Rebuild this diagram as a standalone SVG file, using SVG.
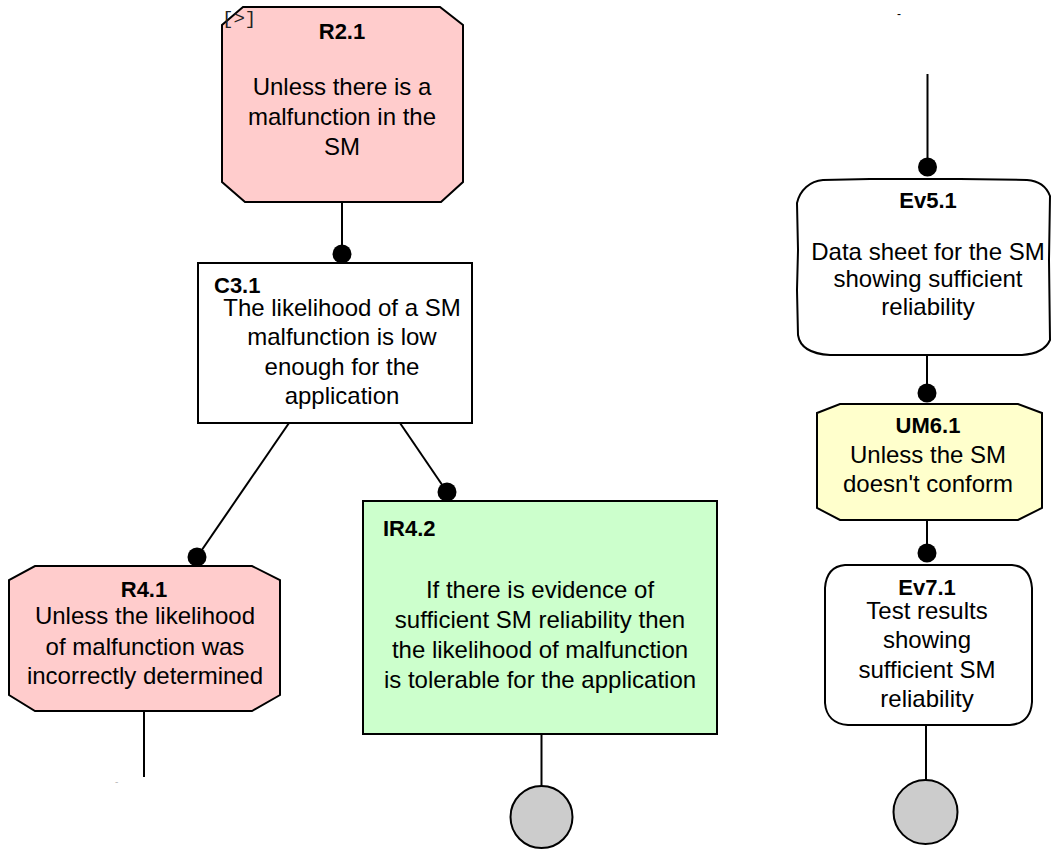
<svg xmlns="http://www.w3.org/2000/svg" width="1052" height="850" viewBox="0 0 1052 850">
  <style>
    .shape { stroke: #000; stroke-width: 2; stroke-linejoin: miter; }
    .rebut { fill: #ffcccc; }
    .ctx { fill: #ffffff; }
    .rule { fill: #ccffcc; }
    .undercut { fill: #ffffcc; }
    .ev { fill: #ffffff; }
    .title { font-family: "Liberation Sans", Arial, sans-serif; font-size: 22px; font-weight: bold; fill: #000; }
    .body { font-family: "Liberation Sans", Arial, sans-serif; font-size: 24px; fill: #000; }
    .mid { text-anchor: middle; }
    .mono { font-family: "Liberation Mono", "Courier New", monospace; font-size: 19px; fill: #222; }
    .link { stroke: #000; stroke-width: 2; fill: none; }
    .dot { fill: #000; }
    .term { fill: #cccccc; stroke: #000; stroke-width: 2; }
  </style>

  <!-- connectors -->
  <g id="connectors">
    <line class="link" x1="342" y1="202" x2="342" y2="254"/>
    <circle class="dot" cx="342" cy="254" r="9.5"/>
    <line class="link" x1="289" y1="423" x2="197" y2="557"/>
    <circle class="dot" cx="197" cy="557" r="9.5"/>
    <line class="link" x1="400" y1="423" x2="447" y2="492"/>
    <circle class="dot" cx="447" cy="492" r="9.5"/>
    <line class="link" x1="144" y1="711" x2="144" y2="777"/>
    <line class="link" x1="541.5" y1="734" x2="541.5" y2="786"/>
    <circle class="term" cx="541.5" cy="817" r="31"/>
    <line class="link" x1="927.5" y1="74" x2="927.5" y2="167"/>
    <circle class="dot" cx="927.5" cy="167" r="9.5"/>
    <line class="link" x1="927" y1="355" x2="927" y2="393"/>
    <circle class="dot" cx="927" cy="393" r="9.5"/>
    <line class="link" x1="927" y1="520" x2="927" y2="553"/>
    <circle class="dot" cx="927" cy="553" r="9.5"/>
    <line class="link" x1="926" y1="725" x2="926" y2="780"/>
    <circle class="term" cx="925.5" cy="812" r="32"/>
  </g>

  <!-- stray marks -->
  <text x="897" y="18" style="font-family: 'Liberation Sans', sans-serif; font-size: 12px; fill: #000;">-</text>
  <text x="115" y="785" style="font-family: 'Liberation Sans', sans-serif; font-size: 10px; fill: #bbb;">-</text>

  <g id="R2.1">
    <polygon class="shape rebut" points="243,7 440,7 463,25 463,182 441,202 245,202 222,182 222,25"/>
    <text class="mono" x="222" y="24">[&gt;]</text>
    <text class="title mid" x="342" y="39">R2.1</text>
    <text class="body mid" x="342" y="95">Unless there is a</text>
    <text class="body mid" x="342" y="125">malfunction in the</text>
    <text class="body mid" x="342" y="155">SM</text>
  </g>

  <g id="C3.1">
    <rect class="shape ctx" x="198" y="263" width="274" height="160"/>
    <text class="title" x="214" y="293">C3.1</text>
    <text class="body mid" x="342" y="316">The likelihood of a SM</text>
    <text class="body mid" x="342" y="345">malfunction is low</text>
    <text class="body mid" x="342" y="375">enough for the</text>
    <text class="body mid" x="342" y="404">application</text>
  </g>

  <g id="R4.1">
    <polygon class="shape rebut" points="35,566 252,566 280,580 280,695 252,711 35,711 9,695 9,580"/>
    <text class="title mid" x="144" y="597">R4.1</text>
    <text class="body mid" x="145" y="624">Unless the likelihood</text>
    <text class="body mid" x="145" y="655">of malfunction was</text>
    <text class="body mid" x="145" y="684">incorrectly determined</text>
  </g>

  <g id="IR4.2">
    <rect class="shape rule" x="363" y="501" width="354" height="233"/>
    <text class="title" x="383" y="536">IR4.2</text>
    <text class="body mid" x="540" y="598">If there is evidence of</text>
    <text class="body mid" x="540" y="628">sufficient SM reliability then</text>
    <text class="body mid" x="540" y="658">the likelihood of malfunction</text>
    <text class="body mid" x="540" y="688">is tolerable for the application</text>
  </g>

  <g id="Ev5.1">
    <path class="shape ev" d="M 823,180 L 870,179 L 960,179 L 1027,180 C 1040,181 1047,188 1050,196 L 1049,260 L 1050,340 C 1046,349 1036,354 1022,355 L 920,355 L 830,355 C 812,354 800,348 798,335 L 797,290 L 798,250 L 797,203 C 800,190 810,181 823,180 Z"/>
    <text class="title mid" x="928" y="208">Ev5.1</text>
    <text class="body mid" x="928" y="260">Data sheet for the SM</text>
    <text class="body mid" x="928" y="287">showing sufficient</text>
    <text class="body mid" x="928" y="315">reliability</text>
  </g>

  <g id="UM6.1">
    <polygon class="shape undercut" points="840,404 1018,404 1042,413 1042,508 1018,520 840,520 817,508 817,413"/>
    <text class="title mid" x="928" y="433">UM6.1</text>
    <text class="body mid" x="928" y="463">Unless the SM</text>
    <text class="body mid" x="928" y="492">doesn't conform</text>
  </g>

  <g id="Ev7.1">
    <path class="shape ev" d="M 845,565 L 1012,565 C 1025,566 1031,575 1032,588 L 1032,702 C 1031,716 1024,724 1010,725 L 848,725 C 834,724 826,716 825,703 L 825,588 C 826,574 833,566 845,565 Z"/>
    <text class="title mid" x="927" y="595">Ev7.1</text>
    <text class="body mid" x="927" y="619">Test results</text>
    <text class="body mid" x="927" y="648">showing</text>
    <text class="body mid" x="927" y="678">sufficient SM</text>
    <text class="body mid" x="927" y="707">reliability</text>
  </g>
</svg>
